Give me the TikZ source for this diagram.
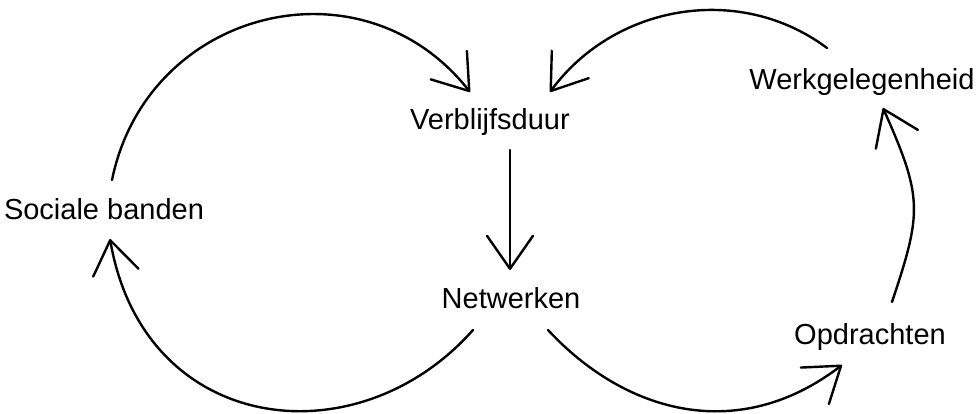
\documentclass[tikz,border=0pt]{standalone}
\usepackage{fontspec}
\setmainfont{Liberation Sans}
\usetikzlibrary{arrows.meta}
\begin{document}
\begin{tikzpicture}[x=1pt,y=1pt,
  lbl/.style={inner sep=0pt, anchor=base, font=\fontsize{29}{34}\selectfont},
  arr/.style={line width=2.4pt, line cap=round, -{Straight Barb[length=33pt,width=46pt,line cap=round,line join=round]}}]
\useasboundingbox (0,0) rectangle (978,414);
\node[lbl] (vd) at (490,284) {Verblijfsduur};
\node[lbl] (sb) at (104,194) {Sociale banden};
\node[lbl] (nw) at (511,105) {Netwerken};
\node[lbl] (wg) at (862,324) {Werkgelegenheid};
\node[lbl] (op) at (870,69) {Opdrachten};
% Sociale banden -> Verblijfsduur
\draw[arr] ([shift={(8,40)}]sb.base) .. controls +(35,171) and +(-108,137) .. ([shift={(-20,38)}]vd.base);
% Werkgelegenheid -> Verblijfsduur
\draw[arr] ([shift={(-35,42)}]wg.base) .. controls +(-87,65) and +(65,88) .. ([shift={(60,38)}]vd.base);
% Verblijfsduur -> Netwerken
\draw[arr] ([shift={(20,-20)}]vd.base) -- ([shift={(-1,39)}]nw.base);
% Netwerken -> Sociale banden
\draw[arr] ([shift={(-38,-21)}]nw.base) .. controls +(-116,-131) and +(34,-196) .. ([shift={(6,-19)}]sb.base);
% Netwerken -> Opdrachten
\draw[arr] ([shift={(37,-21)}]nw.base) .. controls +(78,-84) and +(-103,-79) .. ([shift={(-28,-20)}]op.base);
% Opdrachten -> Werkgelegenheid
\draw[arr] ([shift={(22,43)}]op.base) .. controls +(30,90) and +(40,-90) .. ([shift={(21,-18)}]wg.base);
\end{tikzpicture}
\end{document}
